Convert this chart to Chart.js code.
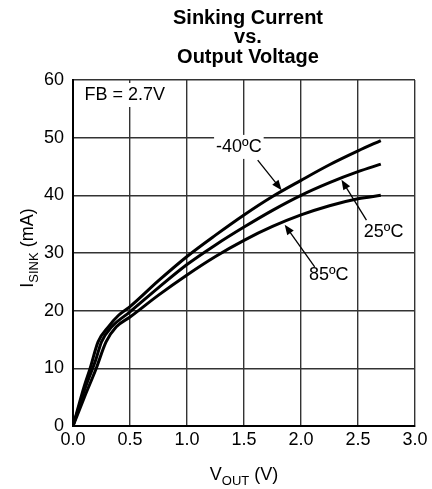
<!DOCTYPE html>
<html>
<head>
<meta charset="utf-8">
<script src="https://cdn.jsdelivr.net/npm/chart.js@4"></script>
<style>
  body { margin: 0; background: #fff; }
  #wrap { width: 432px; height: 489px; }
</style>
</head>
<body>
<div id="wrap"><canvas id="sinkChart" width="432" height="489"></canvas></div>
<script>
// V_OUT (V) sample points
const voutM40 = [0, 0.1, 0.15, 0.22, 0.31, 0.4, 0.5, 0.75, 1.0, 1.25, 1.5, 1.75, 2.0, 2.25, 2.5, 2.7];
const isinkM40 = [0, 7, 10, 14.6, 17.2, 19.2, 20.7, 25.2, 29.4, 33.1, 36.6, 39.8, 42.6, 45.3, 47.7, 49.5];

const vout25 = [0, 0.1, 0.2, 0.25, 0.34, 0.5, 0.75, 1.0, 1.25, 1.5, 1.75, 2.0, 2.25, 2.5, 2.7];
const isink25 = [0, 6.2, 11.5, 14.6, 17.2, 19.8, 24.0, 28.0, 31.4, 34.5, 37.4, 40.0, 42.2, 44.1, 45.4];

const vout85 = [0, 0.1, 0.2, 0.29, 0.38, 0.5, 0.75, 1.0, 1.25, 1.5, 1.75, 2.0, 2.25, 2.5, 2.7];
const isink85 = [0, 5, 9.8, 14.6, 17.2, 18.9, 22.7, 26.2, 29.4, 32.2, 34.6, 36.6, 38.2, 39.4, 40.0];

// 라벨 + 화살표 (데이터 좌표)
const curveLabels = [
    { text: '-40ºC', x: 1.455, y: 48.4, from: [1.62, 46.1], to: [1.83, 40.9] },
    { text: '25ºC', x: 2.725, y: 33.7, from: [2.574, 35.7], to: [2.355, 42.7] },
    { text: '85ºC', x: 2.243, y: 26.2, from: [2.12, 27.6], to: [1.857, 34.9] }
];

const FONT = '"Liberation Sans", Arial, sans-serif';

function toPoints(xs, ys) {
    return xs.map((v, i) => ({ x: v, y: ys[i] }));
}

function lineSet(xs, ys) {
    return {
        data: toPoints(xs, ys),
        showLine: true,
        borderColor: '#000',
        borderWidth: 3,
        pointRadius: 0,
        cubicInterpolationMode: 'monotone',
        fill: false
    };
}

// 텍스트에 아래첨자 붙여서 그리기
function drawSubText(ctx, parts, x, y, align) {
    const widths = parts.map(p => {
        ctx.font = (p.sub ? '13px ' : '18px ') + FONT;
        return ctx.measureText(p.t).width;
    });
    const total = widths.reduce((a, b) => a + b, 0);
    let cx = align === 'center' ? x - total / 2 : x;
    ctx.textAlign = 'left';
    ctx.textBaseline = 'alphabetic';
    parts.forEach((p, i) => {
        ctx.font = (p.sub ? '13px ' : '18px ') + FONT;
        ctx.fillText(p.t, cx, y + (p.sub ? 5 : 0));
        cx += widths[i];
    });
}

const decorPlugin = {
    id: 'decor',
    beforeDatasetsDraw(chart) {
        const ctx = chart.ctx;
        const xs = chart.scales.x, ys = chart.scales.y;
        ctx.save();
        ctx.font = '18px ' + FONT;
        ctx.textBaseline = 'middle';
        ctx.textAlign = 'left';
        // FB box
        const fb = 'FB = 2.7V';
        const fx = xs.getPixelForValue(0.1), fy = ys.getPixelForValue(57.4);
        const fw = ctx.measureText(fb).width;
        ctx.fillStyle = '#fff';
        ctx.fillRect(fx - 3, fy - 12, fw + 6, 24);
        ctx.fillStyle = '#000';
        ctx.fillText(fb, fx, fy);
        // curve labels
        ctx.textAlign = 'center';
        curveLabels.forEach(l => {
            const px = xs.getPixelForValue(l.x), py = ys.getPixelForValue(l.y);
            const w = ctx.measureText(l.text).width;
            ctx.fillStyle = '#fff';
            ctx.fillRect(px - w / 2 - 2, py - 12, w + 4, 24);
            ctx.fillStyle = '#000';
            ctx.fillText(l.text, px, py);
        });
        ctx.restore();
    },
    afterDatasetsDraw(chart) {
        const ctx = chart.ctx;
        const xs = chart.scales.x, ys = chart.scales.y;
        const area = chart.chartArea;
        ctx.save();
        // arrows
        curveLabels.forEach(l => {
            const x1 = xs.getPixelForValue(l.from[0]), y1 = ys.getPixelForValue(l.from[1]);
            const x2 = xs.getPixelForValue(l.to[0]), y2 = ys.getPixelForValue(l.to[1]);
            const ang = Math.atan2(y2 - y1, x2 - x1);
            ctx.strokeStyle = '#000';
            ctx.lineWidth = 1.3;
            ctx.beginPath();
            ctx.moveTo(x1, y1);
            ctx.lineTo(x2 - 6 * Math.cos(ang), y2 - 6 * Math.sin(ang));
            ctx.stroke();
            ctx.fillStyle = '#000';
            ctx.beginPath();
            ctx.moveTo(x2, y2);
            ctx.lineTo(x2 - 10 * Math.cos(ang) + 4 * Math.sin(ang), y2 - 10 * Math.sin(ang) - 4 * Math.cos(ang));
            ctx.lineTo(x2 - 10 * Math.cos(ang) - 4 * Math.sin(ang), y2 - 10 * Math.sin(ang) + 4 * Math.cos(ang));
            ctx.closePath();
            ctx.fill();
        });

        // title (centered over plot area)
        const midX = (area.left + area.right) / 2;
        ctx.fillStyle = '#000';
        ctx.font = 'bold 20px ' + FONT;
        ctx.textAlign = 'center';
        ctx.textBaseline = 'alphabetic';
        ctx.fillText('Sinking Current', midX + 4, 24);
        ctx.fillText('vs.', midX + 4, 43);
        ctx.fillText('Output Voltage', midX + 4, 63);

        // x axis title
        drawSubText(ctx, [{ t: 'V' }, { t: 'OUT', sub: true }, { t: ' (V)' }], midX, 480, 'center');

        // y axis title (rotated)
        const midY = (area.top + area.bottom) / 2;
        ctx.translate(33, midY - 5);
        ctx.rotate(-Math.PI / 2);
        drawSubText(ctx, [{ t: 'I' }, { t: 'SINK', sub: true }, { t: ' (mA)' }], 0, 0, 'center');
        ctx.restore();
    }
};

const ctx = document.getElementById('sinkChart').getContext('2d');
new Chart(ctx, {
    type: 'scatter',
    data: {
        datasets: [
            lineSet(voutM40, isinkM40),
            lineSet(vout25, isink25),
            lineSet(vout85, isink85)
        ]
    },
    options: {
        responsive: false,
        animation: false,
        layout: { padding: { top: 80, right: 17, left: 0, bottom: 0 } },
        plugins: {
            legend: { display: false },
            tooltip: { enabled: false },
            title: { display: false }
        },
        scales: {
            x: {
                type: 'linear',
                min: 0,
                max: 3,
                afterFit: s => { s.height = 63; },
                ticks: {
                    stepSize: 0.5,
                    padding: 3,
                    color: '#000',
                    font: { family: FONT, size: 18 },
                    callback: v => v.toFixed(1)
                },
                grid: { color: '#333', lineWidth: 1.4, drawTicks: false },
                border: { color: '#000', width: 2 }
            },
            y: {
                min: 0,
                max: 60,
                afterFit: s => { s.width = 73; },
                ticks: {
                    stepSize: 10,
                    padding: 9,
                    color: '#000',
                    font: { family: FONT, size: 18 }
                },
                grid: { color: '#333', lineWidth: 1.4, drawTicks: false },
                border: { color: '#000', width: 2 }
            }
        }
    },
    plugins: [decorPlugin]
});
</script>
</body>
</html>
